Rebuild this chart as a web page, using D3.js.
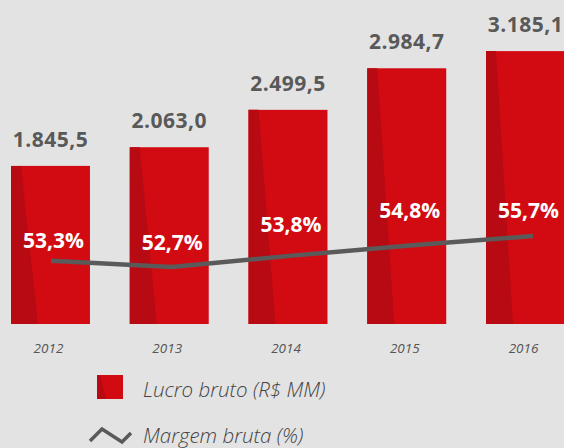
<!DOCTYPE html>
<html>
<head>
<meta charset="utf-8">
<script src="https://cdn.jsdelivr.net/npm/d3@7"></script>
<style>
  html, body { margin: 0; padding: 0; background: #e3e3e3; }
  svg { display: block; }
  .val { font-family: "Open Sans", sans-serif; font-weight: 700; font-size: 21px; fill: #595959; }
  .pct { font-family: "Open Sans", sans-serif; font-weight: 700; font-size: 21px; fill: #ffffff; }
  .year { font-family: "Open Sans", sans-serif; font-style: italic; font-size: 13.5px; fill: #555; }
  .leg { font-family: "Open Sans", sans-serif; font-style: italic; font-weight: 300; font-size: 20.5px; fill: #444; }
</style>
</head>
<body>
<div id="chart"></div>
<script>
const years = ["2012", "2013", "2014", "2015", "2016"];
const lucro = [1845.5, 2063.0, 2499.5, 2984.7, 3185.1];
const margem = [53.3, 52.7, 53.8, 54.8, 55.7];
const lucroLabels = ["1.845,5", "2.063,0", "2.499,5", "2.984,7", "3.185,1"];
const margemLabels = ["53,3%", "52,7%", "53,8%", "54,8%", "55,7%"];
const legendLabels = ["Lucro bruto (R$ MM)", "Margem bruta (%)"];

const W = 564, H = 448;
const RED = "#d20b12", DARK = "#b70a12", LINE = "#5a5a5a";

const svg = d3.select("#chart").append("svg")
    .attr("width", W).attr("height", H)
    .attr("viewBox", `0 0 ${W} ${H}`);

svg.append("rect").attr("width", W).attr("height", H).attr("fill", "#e3e3e3");

// scales
const x = d3.scaleBand().domain(years).range([11, 565]).paddingInner(0.335).paddingOuter(0);
const y = d3.scaleLinear().domain([0, 3700]).range([324, 7]);
const xLine = d3.scalePoint().domain(years).range([51, 533]);
const yM = d3.scaleLinear().domain([52.7, 55.7]).range([267, 236]);

// bars
const bars = svg.append("g").attr("id", "bars")
    .selectAll("g").data(years).enter().append("g");

bars.append("rect")
    .attr("x", d => x(d))
    .attr("y", (d, i) => y(lucro[i]))
    .attr("width", x.bandwidth())
    .attr("height", (d, i) => y(0) - y(lucro[i]))
    .attr("fill", RED);

bars.append("path")
    .attr("fill", DARK)
    .attr("d", (d, i) => {
        let x0 = x(d), t = y(lucro[i]), b = y(0);
        return `M${x0},${t}L${x0 + 10},${t}L${x0 + 27},${b}L${x0},${b}Z`;
    });

// value labels
svg.append("g").selectAll("text").data(years).enter().append("text")
    .attr("class", "val")
    .attr("x", d => x(d) + x.bandwidth() / 2)
    .attr("y", (d, i) => y(lucro[i]) - 19)
    .attr("text-anchor", "middle")
    .style("letter-spacing", "0.5px")
    .text((d, i) => lucroLabels[i]);

// margin line
const line = d3.line()
    .x(d => xLine(d.year))
    .y(d => yM(d.m));

svg.append("path")
    .datum(years.map((d, i) => ({year: d, m: margem[i]})))
    .attr("fill", "none")
    .attr("stroke", LINE)
    .attr("stroke-width", 4.5)
    .attr("d", line);

// percent labels
const pctY = [248, 250, 232, 218, 218];
svg.append("g").selectAll("text").data(years).enter().append("text")
    .attr("class", "pct")
    .attr("x", d => x(d) + x.bandwidth() / 2 + 3)
    .attr("y", (d, i) => pctY[i])
    .attr("text-anchor", "middle")
    .text((d, i) => margemLabels[i]);

// years
svg.append("g").selectAll("text").data(years).enter().append("text")
    .attr("class", "year")
    .attr("x", d => x(d) + x.bandwidth() / 2 - 2)
    .attr("y", 353)
    .attr("text-anchor", "middle")
    .text(d => d);

// legend
const leg = svg.append("g").attr("id", "legend");
leg.append("rect").attr("x", 97).attr("y", 375).attr("width", 26).attr("height", 24).attr("fill", RED);
leg.append("path").attr("fill", DARK).attr("d", "M97,375L100,375L106,399L97,399Z");
leg.append("text").attr("class", "leg").attr("x", 143).attr("y", 397).text(legendLabels[0]);

leg.append("path")
    .attr("fill", "none").attr("stroke", LINE).attr("stroke-width", 3.5)
    .attr("d", "M90,441L102,429L122,442L131,433");
leg.append("text").attr("class", "leg").attr("x", 143).attr("y", 443).text(legendLabels[1]);
</script>
</body>
</html>
